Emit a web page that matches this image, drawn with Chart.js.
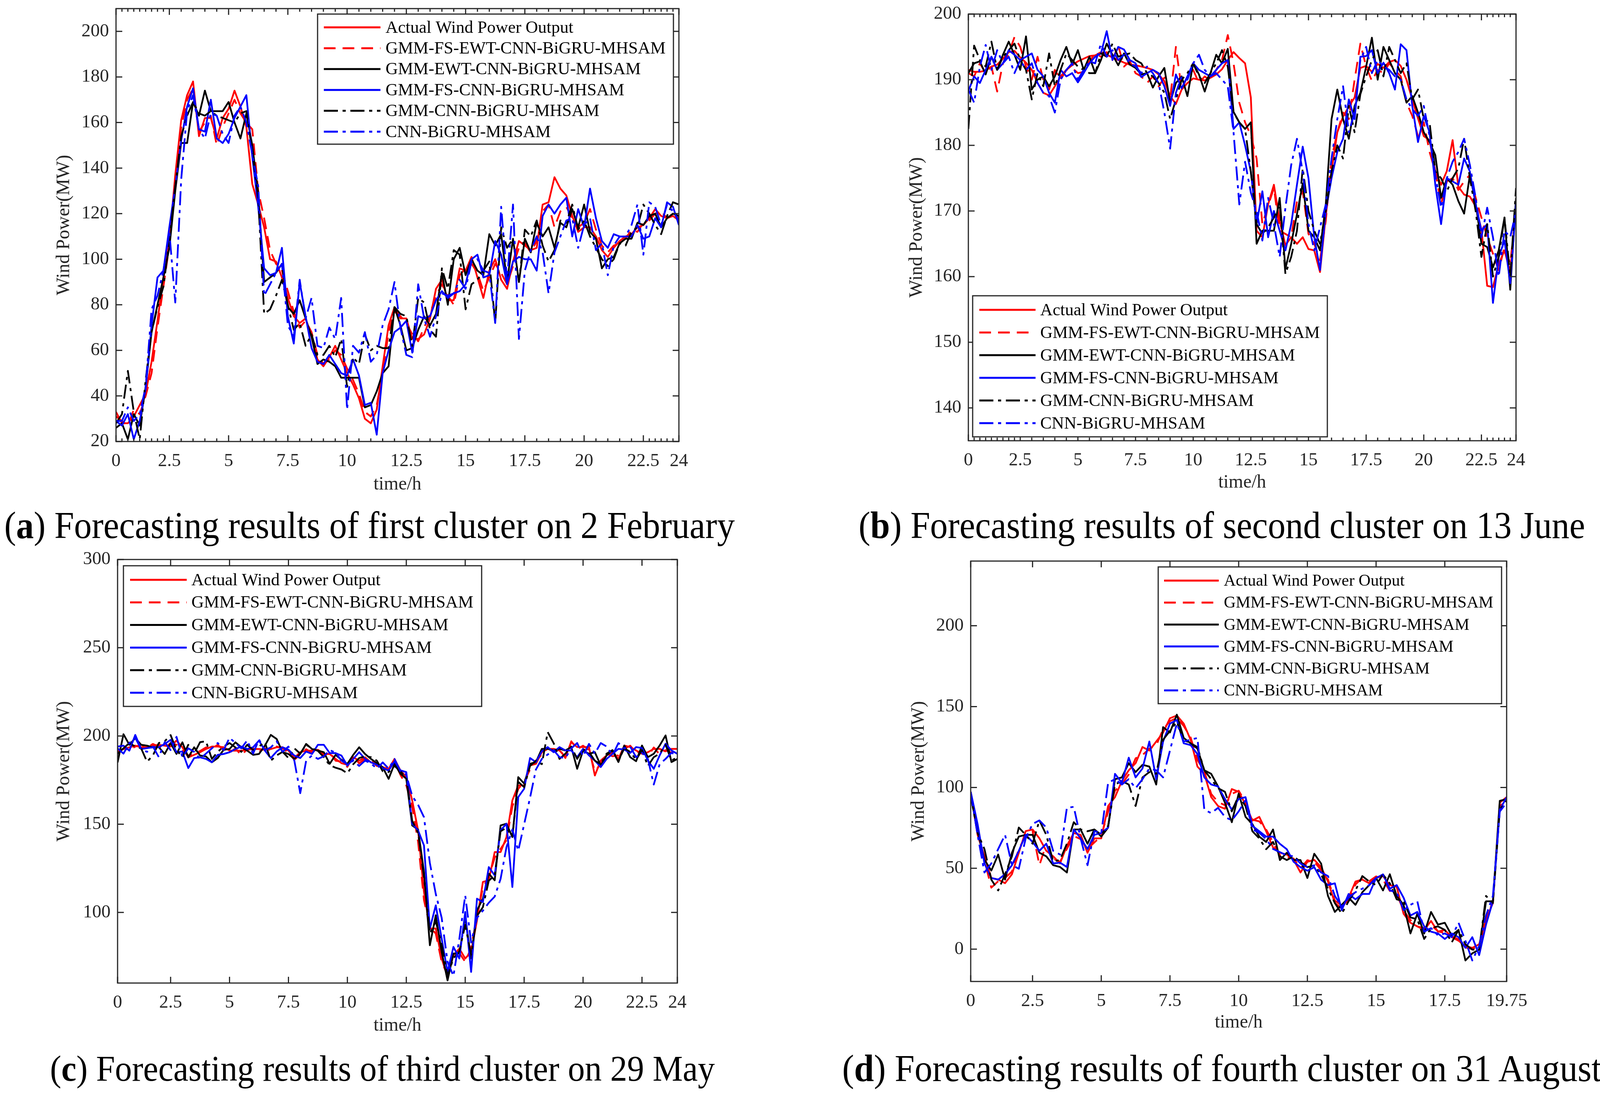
<!DOCTYPE html>
<html>
<head>
<meta charset="utf-8">
<script src="https://cdn.jsdelivr.net/npm/chart.js@4.4.1/dist/chart.umd.min.js"></script>
<style>
html, body { margin: 0; padding: 0; background: #fff; }
#page { position: relative; width: 4113px; height: 2800px; overflow: hidden; background: #fff; }
canvas { position: absolute; }
.cap { position: absolute; white-space: nowrap; line-height: 1; color: #000;
       font-family: "Liberation Serif", "Times New Roman", serif;
       transform-origin: 0 50%; }
</style>
</head>
<body>
<div id="page">
  <canvas id="chart-a"></canvas>
  <canvas id="chart-b"></canvas>
  <canvas id="chart-c"></canvas>
  <canvas id="chart-d"></canvas>
  <div class="cap" id="cap-a">(<b>a</b>) Forecasting results of first cluster on 2 February</div>
  <div class="cap" id="cap-b">(<b>b</b>) Forecasting results of second cluster on 13 June</div>
  <div class="cap" id="cap-c">(<b>c</b>) Forecasting results of third cluster on 29 May</div>
  <div class="cap" id="cap-d">(<b>d</b>) Forecasting results of fourth cluster on 31 August</div>
</div>
<script>
// ---- tick labels ----
const xTickPos96 = [1, 10, 20, 30, 40, 50, 60, 70, 80, 90, 96];
const xTickText96 = ['0', '2.5', '5', '7.5', '10', '12.5', '15', '17.5', '20', '22.5', '24'];
const xTickPos79 = [1, 10, 20, 30, 40, 50, 60, 70, 79];
const xTickText79 = ['0', '2.5', '5', '7.5', '10', '12.5', '15', '17.5', '19.75'];
const yTicksA = [20, 40, 60, 80, 100, 120, 140, 160, 180, 200];
const yTicksB = [140, 150, 160, 170, 180, 190, 200];
const yTicksC = [100, 150, 200, 250, 300];
const yTicksD = [0, 50, 100, 150, 200];

const seriesNames = [
    'Actual Wind Power Output',
    'GMM-FS-EWT-CNN-BiGRU-MHSAM',
    'GMM-EWT-CNN-BiGRU-MHSAM',
    'GMM-FS-CNN-BiGRU-MHSAM',
    'GMM-CNN-BiGRU-MHSAM',
    'CNN-BiGRU-MHSAM'
];

// ---- (a) first cluster, 2 February ----
const actualA = [33,28,28,31,36,41,55,73,92,108,137,161,172,178,154,162,162,153,162,166,
    174,167,158,133,124,114,100,99,92,83,75,72,74,66,56,53,57,62,56,50,
    45,39,30,28,34,53,71,79,74,74,65,65,67,74,87,91,82,82,96,95,
    101,92,83,95,100,91,87,99,108,106,104,105,124,125,136,131,128,119,112,114,
    114,110,104,101,105,108,110,111,114,115,118,122,119,118,119,117];
const fsEwtA = [31,29,27,34,32,40,50,70,88,106,135,158,170,175,156,160,163,150,158,164,
    170,164,160,157,130,118,104,98,95,86,77,70,73,68,58,54,56,60,58,52,
    47,41,33,31,36,50,68,77,75,72,67,64,70,76,84,89,84,80,93,96,
    98,94,86,92,98,94,89,97,105,107,103,108,121,124,114,121,123,118,114,116,
    122,113,106,103,106,107,109,113,112,116,117,120,121,118,120,118];
const ewtA = [26,28,21,32,27,44,68,80,92,105,130,151,151,169,163,174,165,165,165,169,
    160,153,164,150,129,90,92,94,98,79,76,82,74,66,54,56,55,53,48,48,
    48,48,35,36,42,50,53,79,71,60,61,69,75,71,76,94,80,100,105,93,
    100,95,93,111,106,111,90,109,90,109,103,116,110,114,105,116,114,122,114,124,
    112,109,96,100,101,107,109,109,116,115,119,120,114,118,120,119];
const fsCnnA = [29,27,32,21,29,43,71,92,95,114,132,152,167,175,157,156,170,153,151,155,
    162,167,172,145,123,96,93,94,105,75,63,90,75,61,55,54,58,54,50,49,
    56,49,36,37,23,50,60,68,70,73,59,75,74,75,82,86,83,85,86,89,
    100,102,92,93,108,102,89,99,101,100,100,95,119,124,120,124,127,110,122,114,
    131,118,108,105,111,110,110,110,115,109,110,118,114,125,123,115];
const gmmCnnA = [28,32,51,33,21,47,68,79,88,108,132,154,163,169,164,163,165,163,162,161,
    160,164,165,147,127,76,78,84,91,80,69,72,62,67,58,58,62,57,65,44,
    57,54,67,60,62,61,61,79,76,75,62,83,81,69,66,96,87,104,102,78,
    89,91,95,99,72,114,105,109,90,113,110,117,106,99,104,117,116,124,113,117,
    110,105,100,97,100,107,106,112,114,124,120,115,111,119,125,124];
const cnnA = [29,29,35,29,32,44,78,84,95,112,81,135,165,172,157,153,164,163,155,151,
    163,167,160,146,132,84,89,94,98,71,66,91,74,83,62,61,70,65,83,34,
    62,59,68,55,58,71,78,90,70,58,57,89,74,66,75,85,84,85,91,87,
    99,100,95,94,72,123,91,124,65,95,104,110,103,85,103,110,117,118,105,115,
    118,104,107,93,106,110,110,115,124,102,125,123,115,124,121,117];

// ---- (b) second cluster, 13 June ----
const actualB = [191.5,191.2,191.2,191.4,192,192.3,193.2,194.2,194.4,193.4,
    192.6,191.5,189.5,188,187.6,189,190.5,191.5,192.2,192.8,
    193.2,193.6,193.7,194.2,193.8,193.4,193,192.6,192.3,192.2,
    192,191.8,191.5,190.8,189.8,187.5,186.3,188.5,189.5,190.2,
    190,189.9,190.3,190.8,191.6,193,194.2,193.3,192.5,187.3,
    167,166,171,174,168.5,164.8,166,165,166,164.2,
    164,160.7,169.3,176.1,182,184.4,185.9,187.3,191.8,192.1,
    191.2,192.4,191.8,192.7,193,192.1,190,187,184.1,181.4,
    180.8,176.1,174,176.1,180.8,173.7,172.5,172.2,170.7,167.2,
    158.6,158.4,161.9,164,160.7,171];
const fsEwtB = [191,190.5,192.5,191,192,188.2,192.5,194,196.5,195,
    192,190,193.5,190,188.5,191.5,190,191.5,191.8,191,
    191.2,192.8,194,193.5,194.2,193,195.2,192,192.8,191,
    190.5,189.5,190.5,189,190.3,187,195,188.5,190.5,191.5,
    189.5,190.5,189.8,191.5,193,196.8,192.5,186.5,183.5,181.5,
    178,168,170.8,173.5,167,166.5,166,171.5,173,166.5,
    165,162.5,168.5,178,182,185,184,190,195.5,192,
    189.8,191.5,191,192.5,191.5,190.5,186.5,184.5,181.4,183.5,
    179,176,171,174.5,175,173.2,174.5,175.5,172,169,
    166,163.5,161,164.5,162,170];
const ewtB = [191,192.5,192.8,190.8,193.5,191.5,193.8,195.8,193.8,191.5,
    196.6,188.5,190,190.5,189,190.5,193,195,192.3,194.5,
    191.5,193.5,191,193,195.5,193.8,192.2,194,192.3,191.8,
    190.8,191,188.8,190.5,191.8,186.5,189.5,190.5,187.5,192.5,
    190.8,188.2,191,193.8,192.5,194.7,185.1,183.5,182.5,183.5,
    165,167,167,167,172,161.2,165,169.5,174.2,167,
    166,164,171,184,188.5,184,181,186,188,192,
    196.4,190,195,193,191,190,186.5,187.5,185,182,
    180.5,178.5,172,175,174,171.5,169.6,175.5,171.2,165,
    164.5,161.4,164,169,158,172];
const fsCnnB = [188.3,190.5,189.5,191.5,193.5,191.5,192.5,194.5,193.8,193,
    193.5,194,191.5,190.5,188,186.5,191.5,190.5,191,189.6,
    191,192.5,193.5,194,197.4,193,195,194.6,193,192.5,
    190.4,191,191.5,191,189,186,190.8,188.7,190.5,192.5,
    191.5,191,190.5,191.5,192.5,193,182.5,183.5,180,176,
    168,173,166,170,167,164,168,174,179.8,175,
    166,161,170,175,179,181,187,184,193.5,193.6,
    194.5,191,192.6,191,188.5,195.4,194.5,186,180.5,184.5,
    182,174,168,175,174.5,174,178,176,171,167,
    168,156,163,165.5,159,171];
const gmmCnnB = [182.5,195.2,193,192,195.8,191.5,193.5,194.5,195.5,193,
    191.5,187,191,189,194,189,191.5,194,193,192,
    191.5,191,191,194,193.5,195.5,193.5,193.8,194,193,
    192.5,191,190.5,189.5,188,184,187,190,191,192.5,
    190.5,189.5,191,192.5,194.5,192,185,183.5,182.5,176,
    168,166.5,167.5,169,171,160.4,163,167,176.5,170,
    167,165,170,176,180,178,186,182,187.8,190.5,
    193,194.5,190.5,195,193,191,192.5,187,188.5,184,
    183.5,176,175,173,175,176.5,181,175,170,163,
    168,160,163,169,160,173.5];
const cnnB = [188.5,186.5,192,195.3,191.5,194.5,192.5,193.5,191,193,
    191.5,192.5,189.5,188,187.5,185,190,191.5,192.5,190,
    191.5,192.8,192.5,195.5,193.5,194.5,193,193.8,192.5,192,
    191,192,191,189.5,185,179.5,188,190.5,190,192.5,
    193.8,191.5,190.5,191,190,189,182,171,177.5,172.8,
    170,165.5,172,168,163,170.5,177,181,176,168,
    164,167.5,171,178,184,189,182,185,193,195,
    191,193,192,191.5,190.5,190,187,185.5,184.5,186,
    181.4,175.5,170.5,175,177.5,179,181,177,172,166,
    170.5,166,160,167,166,170];

// ---- (c) third cluster, 29 May ----
const actualC = [191.2,192.6,193.6,194.5,193.6,193.6,194.5,195,194.5,194,
    197.4,193.6,187.9,189.3,190.8,192.6,194,194,193.6,191.7,
    191.7,191.7,192.2,192.6,192.6,192.2,192.6,193.6,193.6,191.7,
    187.5,190.8,191.7,191.7,192.2,189.8,189.8,187,184.6,183.7,
    187.9,186,187.9,185,184.2,182.3,181.3,187,180.5,176.7,
    163.5,146.5,111.6,90.9,90.9,73.9,63.5,75.8,79.5,73.9,
    77.6,95.6,117.3,118.2,134.2,134.2,142.7,163.5,172,172,
    183.3,184.2,190.8,192.7,192.7,191.8,188,196.5,193.7,193.7,
    193.7,177.6,186.1,189,190.8,187,194.6,193.7,191.8,189.9,
    190.8,192.7,192.7,191.3,192.7,192.7];
const fsEwtC = [190,193,192,194,195,193.5,195.5,194,193,196,
    195,192,189,190,191.5,193.5,193,195,192,190.5,
    193,189,192.5,193.5,191,193,192,194,193,190.5,
    186.5,189.5,192.5,190.5,193,188.5,191,186,185.5,182.5,
    188.5,184.5,187,186,183,183,180.5,185.5,178,172,
    160,140,107,92,88,72,64.5,78,77,72,
    80,98,114,120,131,136,141,160,170,174,
    181,186,189.5,193,191,192.5,187.5,197,192.5,194.5,
    192,180,184,190,188.5,189,192.7,194.5,190.5,191.5,
    188.5,193.5,189.5,192,190.5,193.5];
const ewtC = [185,201,195,198.8,195,194.5,193.6,193.6,189.8,196,
    189.8,196.4,187.9,193.6,188.9,188.4,185.1,187.5,192.2,192.6,
    196.4,193.6,191.7,189.3,189.8,194.5,200.6,198.3,190.8,189.8,
    187,189.8,195.5,192.6,191.7,190.8,184.2,189.3,186.5,184.2,
    189.3,193.6,189.8,187,184.6,182.3,175.7,184.2,178.6,175.8,
    149.3,147,123,81.4,98.4,77.6,61.5,76.7,76.7,97.5,
    73.9,101.2,107.8,122,118.2,149.3,150.3,142.7,176.7,173,
    184.2,185.2,192.7,192.7,191.8,192.7,191.8,193.7,181.4,191.8,
    189.9,190.8,183.3,189,191.8,185.2,194.6,188,185.7,194.6,
    188,189.9,194.6,200.3,185.2,187];
const fsCnnC = [194,194.5,191.7,200.6,192.6,193.1,193.6,193.6,195.5,197.8,
    190.8,191.2,181.8,187.5,187.9,187,185.1,189.3,189.8,190.8,
    192.6,194,192.6,193.6,197.4,191.7,187.5,191.2,193.6,192.2,
    188.9,187.5,191.2,189.8,195,195,190.3,190.3,188.9,183.2,
    187,190.8,187,185.1,183.7,181.8,180.4,185.7,180.5,179.5,
    150.3,146.5,138,90.9,104,85.2,66.3,80.5,73.9,100.3,
    66.3,107.8,105.9,125.7,121,146.5,150.3,114.4,165.4,170.1,
    187.5,185.2,191.3,193.7,190.8,193.7,191.8,191.8,188,192.7,
    189,186.1,182.4,187,189.9,192.7,192.3,190.4,193.7,193.2,
    186.1,181.4,189,195.6,191.8,189.9];
const gmmCnnC = [190,193,196,194,193,185.4,189,196,197,200.5,
    192,188,195,190,196.5,197,187,191,194,196,
    193.5,191,195,192,194,196.5,186,189,191,187.5,
    193,190,195,193,191.5,188,183.5,182,181,178.8,
    184,187.5,188.5,188,186,180,179.5,183,180,176,
    152,145,120,88,95,82,64,74,78,93,
    76,98,103,118,121,146,148,143,174,171,
    183,186,184,202.2,196,187,190,194,187,192.5,
    191,186,184,190,192,186,193,191,186.5,192,
    183,188,190,195,186,188];
const cnnC = [193,190,196,199,192.5,191,194,188,196.5,192,
    199.5,188,193,191,187,190,193,196,192,199,
    196,193,197.5,190,198,192,193.5,197,191,194,
    186,167.6,186,189,187,188.5,192,190.5,186,184,
    186,183,186,184.5,181.5,185,181.5,187,180,178,
    166,161,154,128,110.5,97,72,64,85,109.7,
    83,97,101,105.5,109,119,137,147,135,150,
    165,181,187,189.5,192,188,187.5,193,196,188.5,
    195.5,190,196,194,189,196,193,194,188,190.5,
    187,172.5,184,187,190.5,189];

// ---- (d) fourth cluster, 31 August ----
const actualD = [97.3,70.7,57.4,44,43,40.8,46.3,59.6,73,74,
    68.5,60.8,57.4,53,64,71.8,70.7,59.6,68.5,68.5,
    88.5,94,104,110.6,115,125,122.8,128.4,133.9,142.8,
    144.5,139.5,129.5,112.9,108.4,94,88.5,86.8,99,97.3,
    89.5,79.5,81.8,72.9,62.9,59.6,58.5,55.2,47.4,54,
    55.2,50.7,41.8,28.5,25.2,31.8,41.8,43,40.7,44,
    45.2,39.6,38.5,21.9,16.3,14.1,11.9,17.4,10.8,11.9,
    7.4,5.2,1.9,0.8,3,18.5,28.5,90.6,94];
const fsEwtD = [96,72,55,38,42,44,48,62,70,73,
    51.9,65,56,54,62,70,68,62,66,70,
    85,98,102,108,118,120,124,126,136,141,
    143,138,131,117,110,96,91,89,96,98,
    91,80,79,74,66,58,57,56,50,55,
    54,49,43,30,27,30,40,44,42,45,
    43,36,34,24,18,14,13,15,11,10,
    8,6,1,0,2,17,30,88,93];
const ewtD = [95,73,55.2,48.6,58.5,43,59.6,69.6,70.7,70.7,
    59.6,57.4,51.9,50.8,47.4,74,74,65.2,74,69.6,
    75.2,105.1,106.2,115,109.5,114,112.9,101.8,137.3,134,
    145,130.6,127.3,124,110.6,108.4,100.6,90.6,78.5,96.2,
    81.8,77.3,69.6,66.3,74,55.1,59.6,55.1,55.1,44,
    59,52.9,32.9,23,27.4,31.8,27.4,35.2,39.6,44,
    36.3,46.3,32.9,27.4,9.7,21.9,9.7,23,15.2,16.3,
    8.5,11.9,-7,-2.6,-0.3,29.6,29.6,91.7,92.8];
const fsCnnD = [97.3,77.4,53,44,43,46.3,51.9,60.8,70.7,66.3,
    60.8,65.2,53,53.5,50.8,74,68.5,61.9,70.7,71.8,
    75.2,108.4,102.9,118.4,106.2,111.7,128.4,105.1,128.4,139.5,
    141.7,127.3,126.2,120.6,106.2,101.8,100.6,92.9,86.3,92.9,
    94,76.2,72.9,69.6,69.6,65.1,61.8,54,50.7,48.5,
    50.7,42.9,39.6,40.7,24.1,34.1,30.8,34.1,34.1,44,
    46.2,37.4,39.6,31.8,20.8,23,14.1,10.8,9.7,6.3,
    9.7,7.4,0.8,7.4,-3.7,15.2,29.6,86.2,94];
const gmmCnnD = [95,71.8,61.9,43,36.3,46.3,57.4,75.2,70.7,65.2,
    79.6,70.7,54.1,55.2,65.2,78.5,74,72.9,74,70.7,
    76.3,101.8,104,101.8,88.5,106.2,109.5,108.4,129.5,135,
    140.6,129.5,127.3,125,110.6,105.1,99.5,97.3,85.2,95,
    88.4,72.9,68.5,61.8,66.3,57.4,55.1,57.4,54,50.7,
    51.8,46.2,37.4,28.5,21.9,29.6,36.3,45.2,41.8,39.6,
    46.2,40.7,30.8,29.6,19.6,18.5,6.3,13,14.1,11.9,
    4.1,11.9,3,-0.3,-0.3,32.9,28.5,86.2,91.7];
const cnnD = [97,70.7,47.4,53,61.9,70.7,51.9,49.7,68.5,77.4,
    79.6,75.2,60.8,58.5,87.4,88,68.5,51.9,73,71.8,
    102.9,105.1,101.8,105.1,99.5,105.1,111.7,110.6,106.2,122.8,
    139.5,128.4,129.5,130.6,86.3,84.1,87.4,81.8,79.6,85.2,
    92,74,72,68,62,60,58,57.4,52.9,50.7,
    51.8,47.4,45.2,32.9,26.3,31.8,35.2,37.4,39.6,44,
    46.2,36.3,35.2,24.1,27.4,29.6,10.8,13,8.5,9.7,
    7.4,16.3,5.2,-7,1.9,20.8,32.9,85.1,90.6];

// ---- styles ----
const INK = '#262626';
const FONT = "'Liberation Serif', 'Times New Roman', serif";
const seriesStyle = [
    { color: '#FF0000', dash: [] },
    { color: '#FF0000', dash: [30, 18] },
    { color: '#000000', dash: [] },
    { color: '#0000FF', dash: [] },
    { color: '#000000', dash: [36, 12, 8, 12] },
    { color: '#0000FF', dash: [36, 12, 8, 12] }
];

// minor ticks on the time axis (MATLAB style, panels a and b)
const minorTicks96 = [];
for (let i = 2; i < 10; i++) minorTicks96.push(i);
for (let i = 12; i < 90; i += 2) if (i % 10 !== 0) minorTicks96.push(i);
for (let i = 91; i < 96; i++) minorTicks96.push(i);

const PAD = { l: 200, t: 30, r: 60, b: 150 };

const panels = [
    { id: 'chart-a', L: 297, T: 22, R: 1738, B: 1130, n: 96, yMin: 20, yMax: 210, yTicks: yTicksA,
      xPos: xTickPos96, xText: xTickText96, minor: minorTicks96,
      series: [actualA, fsEwtA, ewtA, fsCnnA, gmmCnnA, cnnA], xTitlePad: 11, yTitlePad: 39,
      legend: { x: 516, y: 14, w: 911, h: 333, row0: 34, gap: 53.4, s0: 16, s1: 161, tx: 174, tw: 717 } },
    { id: 'chart-b', L: 2479, T: 36, R: 3881, B: 1128, n: 96, yMin: 135, yMax: 200, yTicks: yTicksB,
      xPos: xTickPos96, xText: xTickText96, minor: minorTicks96,
      series: [actualB, fsEwtB, ewtB, fsCnnB, gmmCnnB, cnnB], xTitlePad: 14, yTitlePad: 40,
      legend: { x: 11, y: 721, w: 908, h: 361, row0: 36, gap: 58, s0: 17, s1: 161, tx: 173, tw: 716 } },
    { id: 'chart-c', L: 301, T: 1432, R: 1734, B: 2516, n: 96, yMin: 60, yMax: 300, yTicks: yTicksC,
      xPos: xTickPos96, xText: xTickText96, minor: [],
      series: [actualC, fsEwtC, ewtC, fsCnnC, gmmCnnC, cnnC], xTitlePad: 12, yTitlePad: 35,
      legend: { x: 15, y: 16, w: 917, h: 360, row0: 36, gap: 57.8, s0: 17, s1: 162, tx: 174, tw: 722 } },
    { id: 'chart-d', L: 2485, T: 1436, R: 3857, B: 2512, n: 79, yMin: -20, yMax: 240, yTicks: yTicksD,
      xPos: xTickPos79, xText: xTickText79, minor: [],
      series: [actualD, fsEwtD, ewtD, fsCnnD, gmmCnnD, cnnD], xTitlePad: 16, yTitlePad: 39,
      legend: { x: 480, y: 15, w: 879, h: 350, row0: 35, gap: 56.2, s0: 15, s1: 155, tx: 168, tw: 690 } }
];

// box + inward ticks on all four sides
const boxPlugin = {
    id: 'matlabBox',
    afterDatasetsDraw(chart, args, opts) {
        const { ctx, chartArea: a, scales: { x, y } } = chart;
        ctx.save();
        ctx.strokeStyle = INK;
        ctx.lineWidth = 3;
        ctx.beginPath();
        const vTick = (px, len) => {
            ctx.moveTo(px, a.bottom); ctx.lineTo(px, a.bottom - len);
            ctx.moveTo(px, a.top); ctx.lineTo(px, a.top + len);
        };
        x.ticks.forEach(t => vTick(x.getPixelForValue(t.value), 16));
        (opts.minor || []).forEach(v => vTick(x.getPixelForValue(v), 8));
        y.ticks.forEach(t => {
            const py = y.getPixelForValue(t.value);
            ctx.moveTo(a.left, py); ctx.lineTo(a.left + 16, py);
            ctx.moveTo(a.right, py); ctx.lineTo(a.right - 16, py);
        });
        ctx.stroke();
        ctx.strokeRect(a.left, a.top, a.right - a.left, a.bottom - a.top);
        ctx.restore();
    }
};

// boxed legend inside the axes
const legendPlugin = {
    id: 'boxLegend',
    afterDraw(chart, args, o) {
        const { ctx, chartArea: a } = chart;
        const bx = a.left + o.x, by = a.top + o.y;
        ctx.save();
        ctx.fillStyle = '#fff';
        ctx.fillRect(bx, by, o.w, o.h);
        ctx.strokeStyle = INK;
        ctx.lineWidth = 3;
        ctx.strokeRect(bx, by, o.w, o.h);
        ctx.font = '100px ' + FONT;
        const longest = Math.max(...seriesNames.map(s => ctx.measureText(s).width));
        const fs = 100 * o.tw / longest;
        ctx.font = fs + 'px ' + FONT;
        ctx.textBaseline = 'middle';
        chart.data.datasets.forEach((ds, i) => {
            const yy = by + o.row0 + i * o.gap;
            ctx.strokeStyle = ds.borderColor;
            ctx.lineWidth = 5;
            ctx.setLineDash(ds.borderDash);
            ctx.beginPath();
            ctx.moveTo(bx + o.s0, yy);
            ctx.lineTo(bx + o.s1, yy);
            ctx.stroke();
            ctx.setLineDash([]);
            ctx.fillStyle = '#000';
            ctx.fillText(ds.label, bx + o.tx, yy + 2);
        });
        ctx.restore();
    }
};

function makeChart(p) {
    const canvas = document.getElementById(p.id);
    const W = p.R - p.L + PAD.l + PAD.r;
    const H = p.B - p.T + PAD.t + PAD.b;
    canvas.width = W;
    canvas.height = H;
    canvas.style.width = W + 'px';
    canvas.style.height = H + 'px';
    canvas.style.left = (p.L - PAD.l) + 'px';
    canvas.style.top = (p.T - PAD.t) + 'px';

    const tickFont = { family: FONT, size: 47 };
    const titleFont = { family: FONT, size: 48 };

    const datasets = p.series.map((vals, i) => ({
        label: seriesNames[i],
        data: vals.map((v, k) => ({ x: k + 1, y: v })),
        borderColor: seriesStyle[i].color,
        borderDash: seriesStyle[i].dash,
        borderWidth: 4.5,
        borderJoinStyle: 'round',
        pointRadius: 0,
        tension: 0,
        fill: false,
        order: 5 - i
    }));

    return new Chart(canvas, {
        type: 'line',
        data: { datasets: datasets },
        options: {
            responsive: false,
            animation: false,
            devicePixelRatio: 1,
            layout: { padding: { top: PAD.t, right: PAD.r, left: 0, bottom: 0 } },
            plugins: {
                legend: { display: false },
                tooltip: { enabled: false },
                matlabBox: { minor: p.minor },
                boxLegend: p.legend
            },
            scales: {
                x: {
                    type: 'linear',
                    min: 1,
                    max: p.n,
                    afterBuildTicks: s => { s.ticks = p.xPos.map(v => ({ value: v })); },
                    afterFit: s => { s.height = PAD.b; s.paddingLeft = 0; s.paddingRight = 0; },
                    ticks: {
                        autoSkip: false,
                        maxRotation: 0,
                        padding: 22,
                        font: tickFont,
                        color: INK,
                        callback: v => p.xText[p.xPos.indexOf(v)]
                    },
                    grid: { display: false, drawTicks: false },
                    border: { display: false },
                    title: { display: true, text: 'time/h', font: titleFont, color: INK,
                             padding: { top: 0, bottom: p.xTitlePad } }
                },
                y: {
                    type: 'linear',
                    min: p.yMin,
                    max: p.yMax,
                    afterBuildTicks: s => { s.ticks = p.yTicks.map(v => ({ value: v })); },
                    afterFit: s => { s.width = PAD.l; s.paddingTop = 0; s.paddingBottom = 0; },
                    ticks: { padding: 18, font: tickFont, color: INK },
                    grid: { display: false, drawTicks: false },
                    border: { display: false },
                    title: { display: true, text: 'Wind Power(MW)', font: titleFont, color: INK,
                             padding: { top: p.yTitlePad, bottom: 0 } }
                }
            }
        },
        plugins: [boxPlugin, legendPlugin]
    });
}

panels.forEach(makeChart);

// captions: font size fitted to the width each one has in the figure
const captions = [
    { id: 'cap-a', x0: 11, x1: 1881, cy: 1346 },
    { id: 'cap-b', x0: 2198, x1: 4058, cy: 1346 },
    { id: 'cap-c', x0: 128, x1: 1830, cy: 2736 },
    { id: 'cap-d', x0: 2156, x1: 4100, cy: 2736 }
];
captions.forEach(c => {
    const el = document.getElementById(c.id);
    el.style.fontSize = '100px';
    const w = el.getBoundingClientRect().width;
    const fs = 100 * (c.x1 - c.x0) / w;
    el.style.fontSize = fs + 'px';
    el.style.left = c.x0 + 'px';
    el.style.top = (c.cy - 0.51 * fs) + 'px';
    el.style.transform = 'scaleY(1.07)';
});
</script>
</body>
</html>
